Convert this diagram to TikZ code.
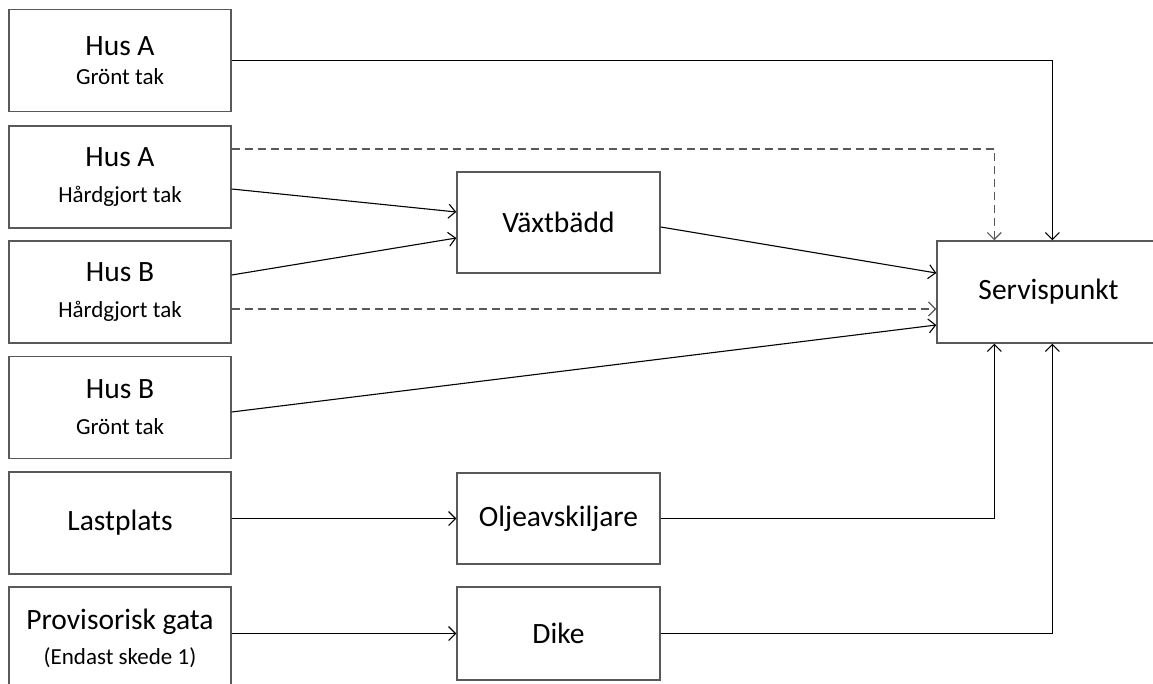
\documentclass[tikz,border=0pt]{standalone}
\usepackage{fontspec}
\setmainfont{Carlito}
\usetikzlibrary{arrows.meta,positioning}
\definecolor{boxgray}{RGB}{89,89,89}
\newcommand{\bigtxt}{\fontsize{29.5}{36}\selectfont}
\newcommand{\smalltxt}{\fontsize{23}{36}\selectfont}

\begin{document}
\begin{tikzpicture}[->,>={Straight Barb[length=7pt,width=14pt]},x=1pt,y=-1pt,line width=1.1pt,
  main node/.style={draw=boxgray,line width=1.4pt,inner sep=0pt,align=center,font=\bigtxt},
  house node/.style={main node,minimum width=222pt,minimum height=102pt},
  unit node/.style={main node,minimum width=203pt},
  dash line/.style={boxgray,line width=1.2pt,dash pattern=on 8pt off 5pt}]
\useasboundingbox (0,0) rectangle (1153,684);
\node[house node] (husAg) at (120,60.5) {Hus A\\[-7pt]{\smalltxt Grönt tak}};
\node[house node] (husAh) at (120,177) {Hus A\\{\smalltxt Hårdgjort tak}};
\node[house node] (husBh) at (120,292) {Hus B\\{\smalltxt Hårdgjort tak}};
\node[house node] (husBg) at (120,407.5) {Hus B\\{\smalltxt Grönt tak}};
\node[house node] (last) at (120,523) {Lastplats};
\node[house node,minimum height=103pt] (gata) at (120,638.5) {Provisorisk gata\\[-1pt]{\smalltxt (Endast skede 1)}};
\node[unit node,minimum height=101pt] (vax) at (558.5,222.5) {Växtbädd};
\node[unit node,minimum height=91pt] (olja) at (558.5,518.5) {Oljeavskiljare};
\node[unit node,minimum height=93pt] (dike) at (558.5,633.5) {Dike};
\node[main node,minimum width=223pt,minimum height=102pt] (serv) at (1048.5,292) {Servispunkt};
% to servispunkt from above
\draw (husAg.east) -| ([xshift=116pt]serv.north west);
\draw[dash line] ([yshift=28pt]husAh.east) -| ([xshift=58pt]serv.north west);
% via vaxtbadd
\draw ([yshift=-12pt]husAh.east) -- ([yshift=10.5pt]vax.west);
\draw ([yshift=17pt]husBh.east) -- ([yshift=-15.5pt]vax.west);
\draw ([yshift=-4.5pt]vax.east) -- ([yshift=19pt]serv.west);
% direct
\draw[dash line] ([yshift=-17pt]husBh.east) -- ([yshift=-17pt]serv.west);
\draw ([yshift=-4.5pt]husBg.east) -- ([yshift=-33pt]serv.west);
% from below
\draw (last.east |- olja.west) -- (olja.west);
\draw (gata.east |- dike.west) -- (dike.west);
\draw (olja.east) -| ([xshift=58pt]serv.south west);
\draw (dike.east) -| ([xshift=116pt]serv.south west);
\end{tikzpicture}
\end{document}
